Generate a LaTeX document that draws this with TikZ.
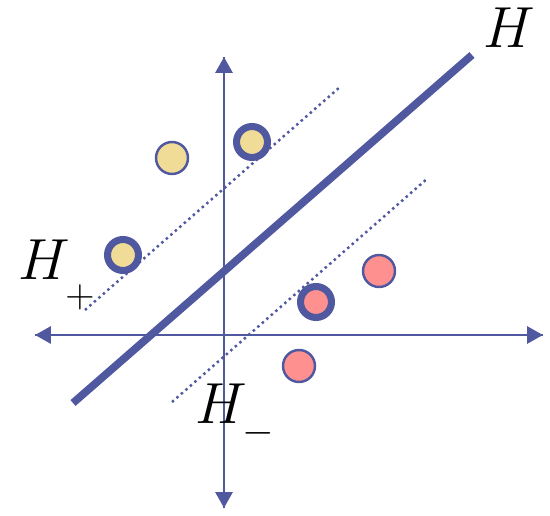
\RequirePackage{fix-cm}
\documentclass[tikz,border=0pt]{standalone}
\usetikzlibrary{arrows.meta}

\definecolor{axisblue}{RGB}{80,88,160}
\definecolor{posfill}{RGB}{240,220,150}
\definecolor{negfill}{RGB}{255,144,144}

\begin{document}
\begin{tikzpicture}[
    x=0.02cm, y=-0.02cm,
    axis/.style={draw=axisblue, line width=1.7pt, -{Triangle[length=0.32cm, width=0.34cm]}},
    hyper/.style={draw=axisblue, line width=4.4pt},
    margin/.style={draw=axisblue, line width=1.4pt, dotted},
    point/.style={circle, draw=axisblue, line width=1.4pt, minimum size=0.64cm, inner sep=0pt},
    support/.style={point, line width=4pt, minimum size=0.62cm},
    lab/.style={font=\fontsize{33}{40}\selectfont, inner sep=0pt},
]
\useasboundingbox (0,0) rectangle (550,516);

% ====== Axes ======
\coordinate (xl) at (35,335);
\coordinate (xr) at (543,335);
\coordinate (yb) at (224,508);
\coordinate (yt) at (224,57);
\draw[axis] (yb) -- (yt);
\draw[axis] (xr) -- (xl);
\draw[axis] (xl) -- (xr);
\draw[axis] (yt) -- (yb);

% ====== Hyperplanes ======
\coordinate (h1) at (73,403);
\coordinate (h2) at (472,55);
\draw[hyper] (h1) -- (h2);

\coordinate (p1) at (85,310);
\coordinate (p2) at (340,87);
\draw[margin] (p1) -- (p2);

\coordinate (m1) at (172,402);
\coordinate (m2) at (428,178);
\draw[margin] (m1) -- (m2);

% ====== Points ======
\node[point, fill=posfill] (pos1) at (172,158) {};
\node[support, fill=posfill] (pos2) at (252,142) {};
\node[support, fill=posfill] (pos3) at (123,255) {};

\node[point, fill=negfill] (neg1) at (379,271) {};
\node[support, fill=negfill] (neg2) at (316,302) {};
\node[point, fill=negfill] (neg3) at (299,366) {};

% ====== Labels ======
\node[lab, anchor=base west] (lH) at (483,48) {$H$};
\node[lab, anchor=base west] (lHp) at (18,280) {$H_{\raisebox{-0.32em}{$\scriptstyle +$}}$};
\node[lab, anchor=base west] (lHm) at (195,423) {$H_{\raisebox{-0.2em}{$\scriptstyle -$}}$};

\end{tikzpicture}
\end{document}
